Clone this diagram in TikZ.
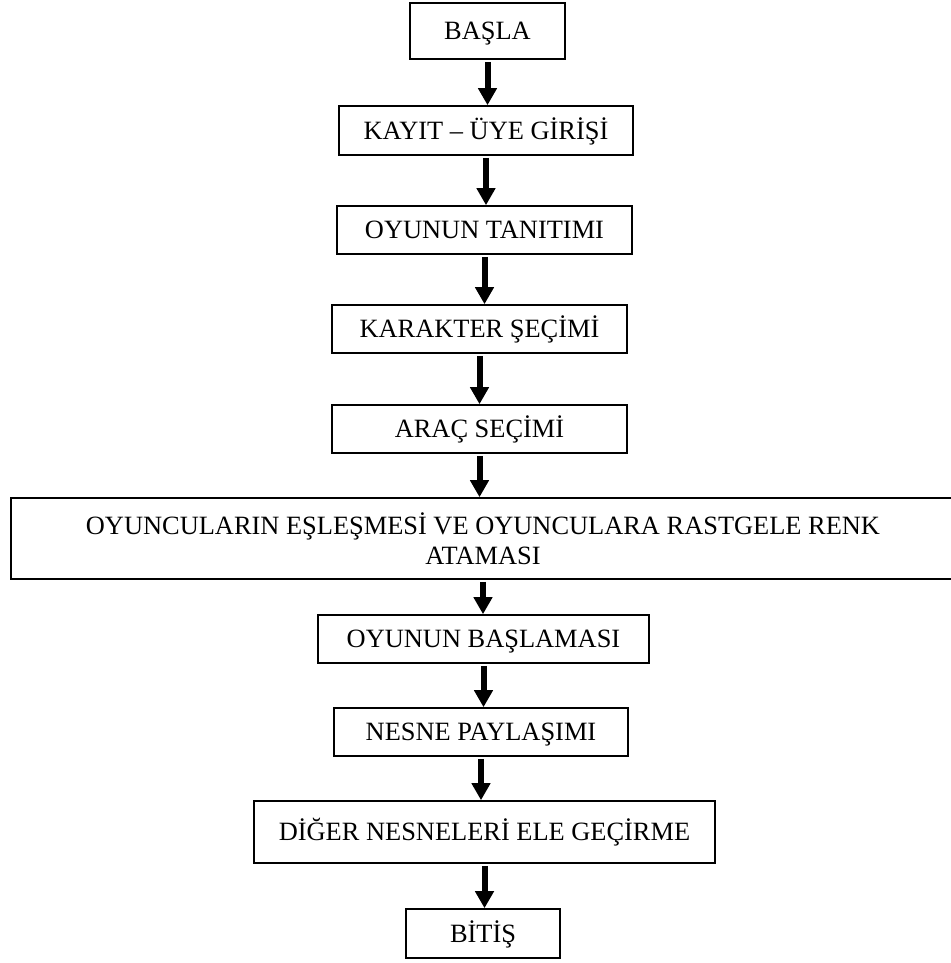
\documentclass[tikz,border=0pt]{standalone}
\usepackage{fontspec}
\setmainfont{Liberation Serif}
\usetikzlibrary{arrows.meta}
\tikzset{
  box/.style={draw=black, line width=1.6pt, inner sep=0pt, align=center,
    font=\fontsize{26.4}{30}\selectfont},
  onebox/.style={box, text height=17.5pt, text depth=0pt},
  flow/.style={line width=6pt, -{Triangle[length=17pt,width=18pt]}, shorten <=2pt}
}
\begin{document}
\begin{tikzpicture}[x=1pt,y=1pt]
\useasboundingbox (0,0) rectangle (950,-963);
\node[onebox, minimum width=155pt, minimum height=56pt] (n1) at (487.5,-31) {BAŞLA};
\node[onebox, minimum width=294pt, minimum height=49pt] (n2) at (486,-130.5) {KAYIT – ÜYE GİRİŞİ};
\node[onebox, minimum width=295pt, minimum height=48pt] (n3) at (484.5,-230) {OYUNUN TANITIMI};
\node[onebox, minimum width=295pt, minimum height=48pt] (n4) at (479.5,-329) {KARAKTER ŞEÇİMİ};
\node[onebox, minimum width=295pt, minimum height=48pt] (n5) at (479.5,-429) {ARAÇ SEÇİMİ};
\node[box, minimum width=944pt, minimum height=81pt] (n6) at (483,-538.5) {OYUNCULARIN EŞLEŞMESİ VE OYUNCULARA RASTGELE RENK\\ATAMASI};
\node[onebox, minimum width=331pt, minimum height=48pt] (n7) at (483.5,-639) {OYUNUN BAŞLAMASI};
\node[onebox, minimum width=294pt, minimum height=48pt] (n8) at (481,-732) {NESNE PAYLAŞIMI};
\node[onebox, minimum width=461pt, minimum height=62pt] (n9) at (484.5,-832) {DİĞER NESNELERİ ELE GEÇİRME};
\node[onebox, minimum width=154pt, minimum height=49pt] (n10) at (483,-933.5) {BİTİŞ};
\draw[flow] (n1.south) -- (n1.south |- n2.north);
\draw[flow] (n2.south) -- (n2.south |- n3.north);
\draw[flow] (n3.south) -- (n3.south |- n4.north);
\draw[flow] (n4.south) -- (n4.south |- n5.north);
\draw[flow] (n5.south) -- (n5.south |- n6.north);
\draw[flow] (n6.south) -- (n6.south |- n7.north);
\draw[flow] (n7.south) -- (n7.south |- n8.north);
\draw[flow] (n8.south) -- (n8.south |- n9.north);
\draw[flow] (n9.south) -- (n9.south |- n10.north);
\end{tikzpicture}
\end{document}
